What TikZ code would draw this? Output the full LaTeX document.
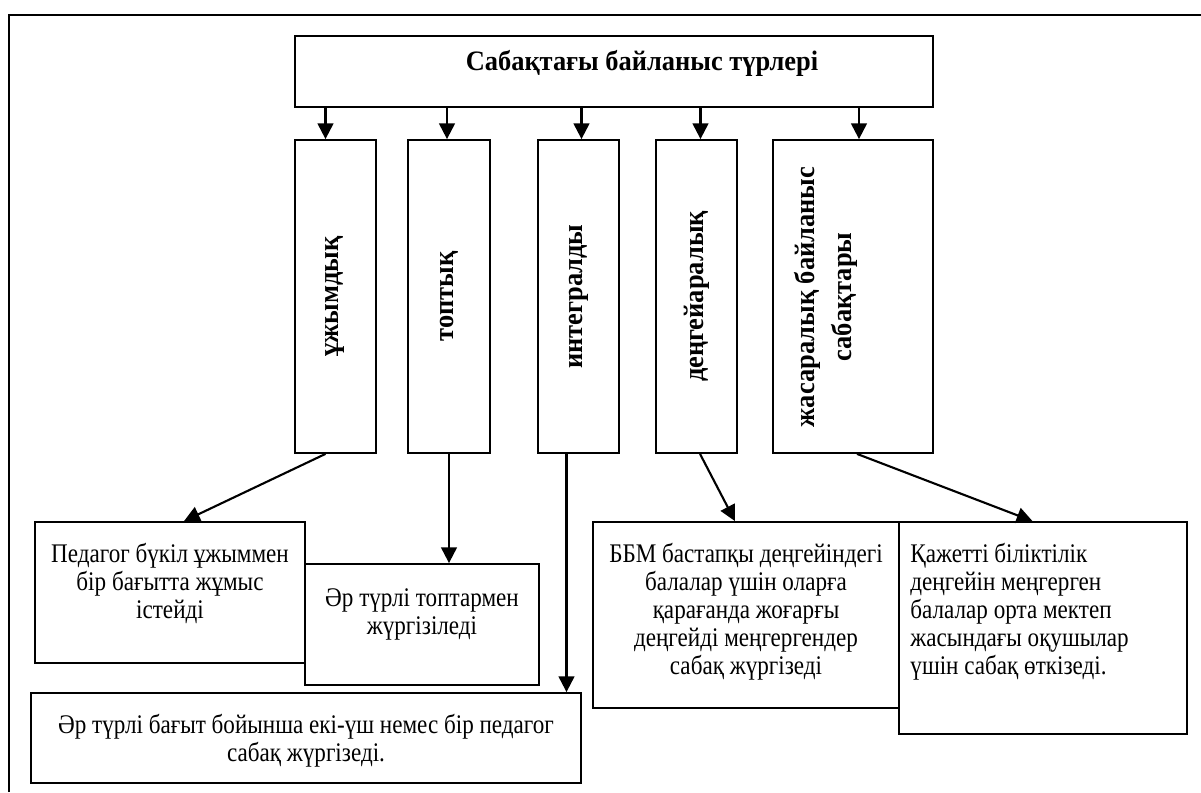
\documentclass[tikz,border=0pt]{standalone}
\usepackage{fontspec}
\setmainfont{Liberation Serif}[FakeStretch=0.94]
\newfontfamily\bodyfont{Liberation Serif}[FakeStretch=0.86]
\usetikzlibrary{positioning}
\usetikzlibrary{arrows.meta}

\tikzset{
  box/.style={draw, line width=1.05pt, fill=white, inner sep=0pt},
  col/.style={box, minimum height=6.26cm, font=\fontsize{16}{21}\selectfont\bfseries},
  body/.style={inner sep=0pt, align=center, font=\bodyfont\fontsize{15.3}{15.9}\selectfont},
  arr/.style={line width=1.2pt, -{Triangle[length=9pt,width=9pt]}}
}

\begin{document}
\begin{tikzpicture}[x=0.02cm,y=-0.02cm]
\useasboundingbox (0,0) rectangle (1201,792);
\draw[line width=1pt] (9,792) -- (9,15) -- (1201,15);

% top
\node[box, minimum width=12.76cm, minimum height=1.42cm] (top) at (614,71.5) {};
\node[inner sep=0pt, font=\fontsize{16}{21}\selectfont\bfseries] (title) at (642,63) {Сабақтағы байланыс түрлері};

% columns
\node[col, minimum width=1.62cm] (colA) at (335.5,296.5) {\rotatebox{90}{ұжымдық}};
\node[col, minimum width=1.64cm] (colB) at (449,296.5) {\rotatebox{90}{топтық}};
\node[col, minimum width=1.62cm] (colC) at (578.5,296.5) {\rotatebox{90}{интегралды}};
\node[col, minimum width=1.62cm] (colD) at (696.5,296.5) {\rotatebox{90}{деңгейаралық}};
\node[col, minimum width=3.2cm] (colE) at (853,296.5) {};
\node[rotate=90, align=center, inner sep=0pt, font=\fontsize{16}{21}\selectfont\bfseries] (labE) at (826,297) {жасаралық байланыс\\сабақтары};

\foreach \c/\dx in {colA/-10,colB/-2,colC/3,colD/4,colE/6}
  \draw[arr] ([xshift=\dx*0.02cm]\c.north |- top.south) -- ([xshift=\dx*0.02cm]\c.north);

% lower boxes
\node[box, minimum width=5.4cm, minimum height=2.82cm] (ped) at (170,592.5) {};
\node[box, minimum width=4.68cm, minimum height=2.42cm] (grp) at (422,624.5) {};
\node[box, minimum width=11cm, minimum height=1.8cm] (all) at (306,738) {};
\node[box, minimum width=6.12cm, minimum height=3.72cm] (lvl) at (746,615) {};
\node[box, minimum width=5.76cm, minimum height=4.24cm] (age) at (1043,628) {};

\node[body, below=0.44cm of ped.north] (pedT) {Педагог бүкіл ұжыммен\\бір бағытта жұмыс\\істейді};
\node[body, below=0.5cm of grp.north] (grpT) {Әр түрлі топтармен\\жүргізіледі};
\node[body, below=0.44cm of all.north] (allT) {Әр түрлі бағыт бойынша екі-үш немес бір педагог\\сабақ жүргізеді.};
\node[body, below=0.44cm of lvl.north] (lvlT) {ББМ бастапқы деңгейіндегі\\балалар үшін оларға\\қарағанда жоғарғы\\деңгейді меңгергендер\\сабақ жүргізеді};
\node[body, align=left, below right=0.44cm and 0.24cm of age.north west] (ageT) {Қажетті біліктілік\\деңгейін меңгерген\\балалар орта мектеп\\жасындағы оқушылар\\үшін сабақ өткізеді.};

\draw[arr] ([xshift=-0.2cm]colA.south) -- ([xshift=0.28cm]ped.north);
\draw[arr] (colB.south) -- (colB.south |- grp.north);
\draw[arr] ([xshift=-0.24cm]colC.south) -- ([xshift=-0.24cm]colC.south |- all.north);
\draw[arr] ([xshift=0.07cm]colD.south) -- ([xshift=-0.22cm]lvl.north);
\draw[arr] ([xshift=0.08cm]colE.south) -- ([xshift=-0.21cm]age.north);
\end{tikzpicture}
\end{document}
